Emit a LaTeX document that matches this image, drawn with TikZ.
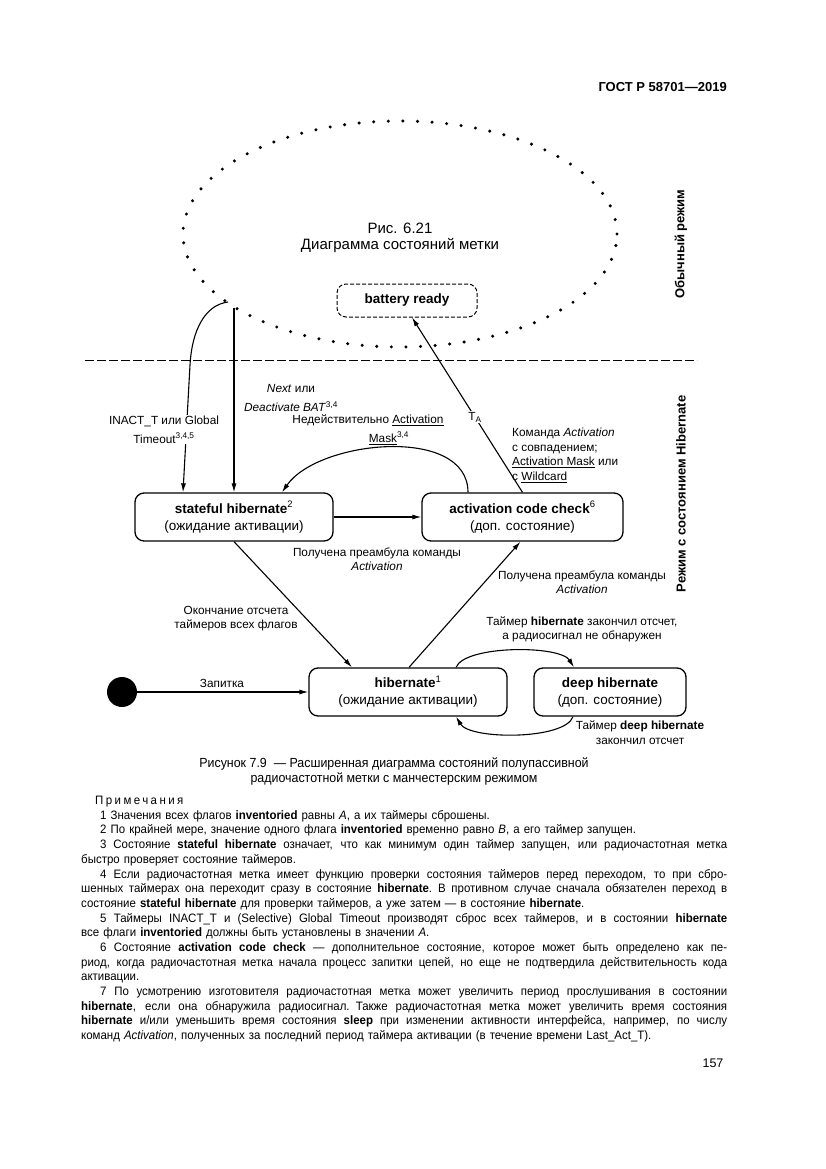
\documentclass[tikz,border=0pt]{standalone}
\usepackage{fontspec}
\setmainfont{Liberation Sans}
\newfontfamily\notefont{Liberation Sans}[FakeStretch=0.94]
\usetikzlibrary{arrows.meta}
\newcommand{\fullln}[1]{\leavevmode\hbox to 646pt{\spaceskip=0.26em plus 0.5em minus 0.06em\relax #1}}
\begin{document}
\begin{tikzpicture}[x=1pt,y=-1pt,
  state/.style={draw, line width=1.3pt, rounded corners=9pt, align=center, inner sep=0pt,
    font=\fontsize{13.5}{17}\selectfont},
  lbl/.style={font=\fontsize{11.8}{14.5}\selectfont, align=center, inner sep=1pt},
  lbltall/.style={font=\fontsize{11.8}{19}\selectfont, align=center, inner sep=1pt},
  arr/.style={-{Latex[length=9pt,width=5pt]}, line width=1.1pt},
  vlabel/.style={rotate=90, font=\bfseries\fontsize{13}{15}\selectfont},
]
\useasboundingbox (0,0) rectangle (826,1169);

% header
\node[anchor=east, inner sep=0pt, font=\bfseries\fontsize{13}{15}\selectfont] (hdr) at (727,87) {ГОСТ Р 58701—2019};

% dotted ellipse (normal mode)
\draw[line width=3.4pt, line cap=round, dash pattern=on 0pt off 14.6pt]
  (400,234) ellipse [x radius=217pt, y radius=113pt];
\node[font=\fontsize{15}{16.5}\selectfont, align=center] (fig) at (400,238) {Рис. 6.21\\Диаграмма состояний метки};
\coordinate (e1) at (228,302);
\coordinate (e2) at (234,308);

% mode separator
\coordinate (dl) at (85,360);
\coordinate (dr) at (697,360);
\draw[line width=1pt, dash pattern=on 9pt off 3pt] (dl) -- (dr);

\node[vlabel] (mode1) at (681,244) {Обычный режим};
\node[vlabel] (mode2) at (681,494) {Режим с состоянием Hibernate};

% states
\node[state, dashed, dash pattern=on 4pt off 2pt, line width=1pt, minimum width=140pt, minimum height=33pt] (br) at (407,300.5) {\textbf{battery ready}};
\node[state, minimum width=198pt, minimum height=48pt] (sh) at (234,517) {\textbf{stateful hibernate}\textsuperscript{2}\\(ожидание активации)};
\node[state, minimum width=201pt, minimum height=48pt] (acc) at (522.5,517) {\textbf{activation code check}\textsuperscript{6}\\(доп. состояние)};
\node[state, minimum width=198pt, minimum height=48pt] (hib) at (408,692) {\textbf{hibernate}\textsuperscript{1}\\(ожидание активации)};
\node[state, minimum width=152pt, minimum height=48pt] (deep) at (610,692) {\textbf{deep hibernate}\\(доп. состояние)};
\node[circle, fill=black, minimum size=30pt, inner sep=0pt] (init) at (122,692) {};

% connectors
\draw[arr] (e1) .. controls (205,305) and (192,330) .. (190,365) -- ([xshift=-51pt]sh.north);
\draw[arr] (e2) -- (e2 |- sh.north);
\draw[arr] ([xshift=-54.5pt]acc.north) .. controls (468,425) and (318,440) .. ([xshift=48pt]sh.north);
\draw[arr] (acc.north) -- node[lbl, fill=white, pos=0.43] (ta) {T\textsubscript{A}} ([xshift=5pt]br.south);
\draw[arr] (sh.east) -- (acc.west);
\draw[arr] (sh.south) -- ([xshift=-56pt]hib.north);
\draw[arr] ([xshift=1pt]hib.north) -- ([xshift=-2pt]acc.south);
\draw[arr] ([xshift=48pt]hib.north) .. controls (465,645) and (560,645) .. ([xshift=-36pt]deep.north);
\draw[arr] ([xshift=-37pt]deep.south) .. controls (565,740) and (470,740) .. ([xshift=48pt]hib.south);
\draw[arr] (init) -- (hib.west);

% labels
\node[lbltall, fill=white] (l1) at (164,429.5) {INACT\_T или Global\\Timeout\textsuperscript{3,4,5}};
\node[lbltall] (l2) at (291,398) {\textit{Next} или\\\textit{Deactivate BAT}\textsuperscript{3,4}};
\node[lbltall] (l3) at (368,429.5) {Недействительно \underline{Activation}\\\hspace*{42pt}\underline{Mask}\textsuperscript{3,4}};
\node[lbl, anchor=north west, align=left, inner sep=0pt] (l4) at (512,428) {Команда \textit{Activation}\\с совпадением;\\\underline{Activation Mask} или\\с \underline{Wildcard}};
\node[lbl] (l5) at (377,559) {Получена преамбула команды\\\textit{Activation}};
\node[lbl] (l6) at (582,582) {Получена преамбула команды\\\textit{Activation}};
\node[lbl] (l7) at (236,618.5) {Окончание отсчета\\таймеров всех флагов};
\node[lbl] (l8) at (582,629.5) {Таймер \textbf{hibernate} закончил отсчет,\\а радиосигнал не обнаружен};
\node[lbl] (l9) at (640,732.5) {Таймер \textbf{deep hibernate}\\закончил отсчет};
\node[lbl] (l10) at (222,683) {Запитка};

% caption
\node[align=center, inner sep=0pt, font=\notefont\fontsize{13.2}{15}\selectfont] (cap) at (394,771.5) {Рисунок 7.9~ — Расширенная диаграмма состояний полупассивной\\радиочастотной метки с манчестерским режимом};

% notes
\node[anchor=north west, inner sep=0pt, align=left, text width=646pt, font=\notefont\fontsize{12.2}{14.69}\selectfont] (notes) at (81,796) {%
\hspace*{14pt}{\addfontfeature{LetterSpace=20}Примечания}\\
\hspace*{19pt}1 Значения всех флагов \textbf{inventoried} равны \textit{A}, а их таймеры сброшены.\\
\hspace*{19pt}2 По крайней мере, значение одного флага \textbf{inventoried} временно равно \textit{B}, а его таймер запущен.\\
\fullln{\hspace*{19pt}3 Состояние \textbf{stateful hibernate} означает, что как минимум один таймер запущен, или радиочастотная метка}\\
быстро проверяет состояние таймеров.\\
\fullln{\hspace*{19pt}4 Если радиочастотная метка имеет функцию проверки состояния таймеров перед переходом, то при сбро-}\\
\fullln{шенных таймерах она переходит сразу в состояние \textbf{hibernate}. В противном случае сначала обязателен переход в}\\
состояние \textbf{stateful hibernate} для проверки таймеров, а уже затем — в состояние \textbf{hibernate}.\\
\fullln{\hspace*{19pt}5 Таймеры INACT\_T и (Selective) Global Timeout производят сброс всех таймеров, и в состоянии \textbf{hibernate}}\\
все флаги \textbf{inventoried} должны быть установлены в значении \textit{A}.\\
\fullln{\hspace*{19pt}6 Состояние \textbf{activation code check} — дополнительное состояние, которое может быть определено как пе-}\\
\fullln{риод, когда радиочастотная метка начала процесс запитки цепей, но еще не подтвердила действительность кода}\\
активации.\\
\fullln{\hspace*{19pt}7 По усмотрению изготовителя радиочастотная метка может увеличить период прослушивания в состоянии}\\
\fullln{\textbf{hibernate}, если она обнаружила радиосигнал. Также радиочастотная метка может увеличить время состояния}\\
\fullln{\textbf{hibernate} и/или уменьшить время состояния \textbf{sleep} при изменении активности интерфейса, например, по числу}\\
команд \textit{Activation}, полученных за последний период таймера активации (в течение времени Last\_Act\_T).};

\node[inner sep=0pt, font=\fontsize{12.5}{15}\selectfont] (pg) at (713,1063) {157};
\end{tikzpicture}
\end{document}
